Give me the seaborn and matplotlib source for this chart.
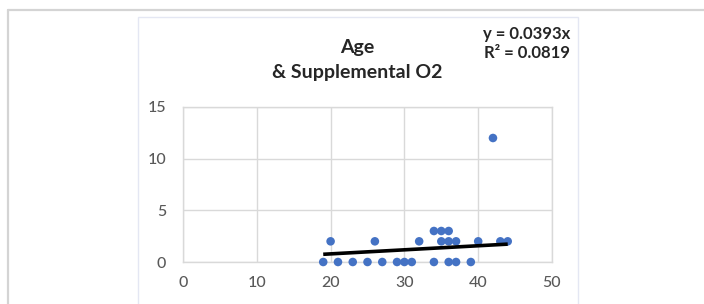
import matplotlib
matplotlib.use("Agg")
import matplotlib.pyplot as plt
import seaborn as sns
import numpy as np
import pandas as pd
from matplotlib.lines import Line2D
from matplotlib.patches import Rectangle

# Data
age = [19, 21, 23, 25, 27, 29, 30, 31, 34, 36, 37, 39,
       20, 26, 32, 35, 36, 37, 40, 43, 44,
       34, 35, 36,
       42]
o2 = [0, 0, 0, 0, 0, 0, 0, 0, 0, 0, 0, 0,
      2, 2, 2, 2, 2, 2, 2, 2, 2,
      3, 3, 3,
      12]
slope = 0.0393
r2 = 0.0819
x_ticks = [0, 10, 20, 30, 40, 50]
y_ticks = [0, 5, 10, 15]
title = "Age\n& Supplemental O2"

df = pd.DataFrame({"Age": age, "O2": o2})

sns.set_style("white")
plt.rcParams['font.family'] = ['Lato', 'DejaVu Sans']

W, H = 704, 304
fig = plt.figure(figsize=(W / 100, H / 100), dpi=100)
fig.patch.set_facecolor("white")

def fx(px):
    return px / W

def fy(py):
    return 1 - py / H

# outer frame lines
fig.add_artist(Line2D([fx(8), fx(704)], [fy(9.5), fy(9.5)], color="#d4d4d4", lw=1.6))
fig.add_artist(Line2D([fx(8), fx(8)], [fy(9.5), fy(304)], color="#d4d4d4", lw=1.6))
# inner chart border
fig.add_artist(Rectangle((fx(138), fy(310)), fx(578) - fx(138), fy(17) - fy(310),
                         fill=False, edgecolor="#e4e7f3", lw=1.0))

ax = fig.add_axes([fx(183), fy(262), fx(552) - fx(183), fy(107) - fy(262)])
sns.scatterplot(data=df, x="Age", y="O2", ax=ax, color="#4472C4", s=38,
                edgecolor="none", clip_on=False, zorder=3)

xs = np.array([min(age), max(age)])
ax.plot(xs, slope * xs, color="black", lw=2.6, zorder=4, solid_capstyle="butt")

ax.set_xlim(0, 50)
ax.set_ylim(0, 15)
ax.set_xticks(x_ticks)
ax.set_yticks(y_ticks)
ax.set_xlabel("")
ax.set_ylabel("")
ax.grid(True, color="#d9d9d9", lw=1.0)
ax.set_axisbelow(True)
for s in ax.spines.values():
    s.set_color("#d9d9d9")
    s.set_linewidth(1.0)
ax.tick_params(axis="both", length=0, labelsize=11.5, labelcolor="#595959")
for lab in ax.get_xticklabels() + ax.get_yticklabels():
    lab.set_fontweight("medium")
ax.tick_params(axis="x", pad=10)
ax.tick_params(axis="y", pad=12)

fig.text(fx(357), fy(60), title, ha="center", va="center", fontsize=14,
         fontweight="bold", color="#262626", linespacing=1.6)
fig.text(fx(526.5), fy(43.5), "y = 0.0393x\nR² = 0.0819", ha="center", va="center",
         fontsize=12, fontweight="bold", color="#262626", linespacing=1.25)

fig.savefig("out.png", dpi=100, facecolor="white")
